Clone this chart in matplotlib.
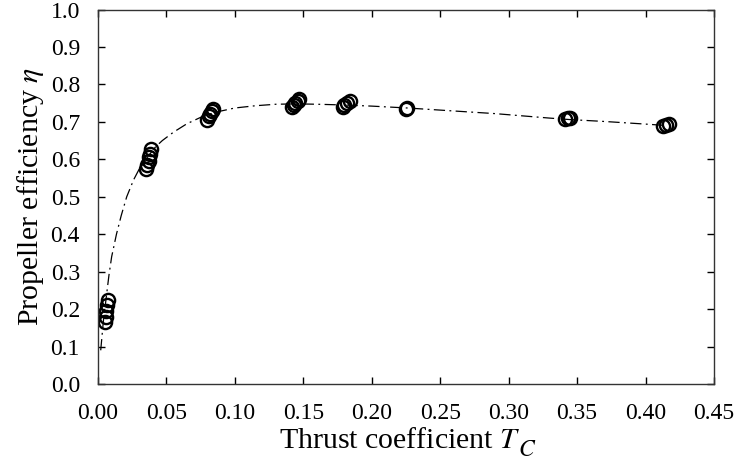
import numpy as np
import matplotlib
matplotlib.use('Agg')
import matplotlib.pyplot as plt

plt.rcParams['font.family'] = ['Liberation Serif', 'DejaVu Serif']
plt.rcParams['mathtext.fontset'] = 'stix'

# measured points (open circles)
tc_meas = [0.005, 0.0055, 0.006, 0.0065, 0.007,
           0.035, 0.036, 0.037, 0.0375, 0.038, 0.0385,
           0.080, 0.081, 0.082, 0.083, 0.084,
           0.142, 0.143, 0.144, 0.146, 0.147,
           0.179, 0.180, 0.182, 0.184,
           0.225, 0.226,
           0.341, 0.343, 0.345,
           0.413, 0.415, 0.417]
eta_meas = [0.165, 0.18, 0.195, 0.21, 0.225,
            0.575, 0.585, 0.595, 0.605, 0.615, 0.628,
            0.705, 0.715, 0.722, 0.728, 0.733,
            0.740, 0.745, 0.750, 0.755, 0.760,
            0.740, 0.745, 0.750, 0.757,
            0.735, 0.738,
            0.707, 0.710, 0.711,
            0.690, 0.692, 0.693]

# fitted curve (dash-dot)
tc_fit = [0.002, 0.004, 0.006, 0.008, 0.010, 0.0135, 0.017, 0.021, 0.026,
          0.031, 0.037, 0.042, 0.047, 0.055, 0.065, 0.075, 0.085, 0.100,
          0.115, 0.130, 0.145, 0.160, 0.180, 0.200, 0.226, 0.260, 0.290,
          0.330, 0.345, 0.370, 0.400, 0.416]
eta_fit = [0.09, 0.17, 0.23, 0.29, 0.34, 0.40, 0.45, 0.50, 0.545,
           0.58, 0.61, 0.633, 0.650, 0.672, 0.695, 0.712, 0.725, 0.737,
           0.743, 0.747, 0.748, 0.747, 0.745, 0.742, 0.737, 0.729, 0.722,
           0.710, 0.706, 0.701, 0.694, 0.690]

fig = plt.figure(figsize=(7.35, 4.75), dpi=100)
ax = fig.add_axes([0.1333, 0.1916, 0.9714 - 0.1333, 0.98 - 0.1916])

ax.plot(tc_fit, eta_fit, color='black', linestyle='-.', linewidth=0.9,
        dashes=(9, 3.5, 1.5, 3.5))
ax.plot(tc_meas, eta_meas, linestyle='none', marker='o', markersize=9.5,
        markerfacecolor='none', markeredgecolor='black', markeredgewidth=1.7)

ax.set_xlim(0, 0.45)
ax.set_ylim(0, 1.0)
ax.set_xticks(np.arange(0, 0.451, 0.05))
ax.set_yticks(np.arange(0, 1.01, 0.1))
ax.set_xticklabels(['%.2f' % v for v in np.arange(0, 0.451, 0.05)])
ax.set_yticklabels(['%.1f' % v for v in np.arange(0, 1.01, 0.1)])
ax.tick_params(direction='in', top=True, right=True, length=5, width=1,
               labelsize=17)
ax.tick_params(axis='x', pad=14)
ax.tick_params(axis='y', pad=13)
for s in ax.spines.values():
    s.set_linewidth(1.0)
    s.set_color('#333333')

# subscript C sits well below T, so it is drawn as its own text
ax.set_xlabel(r'Thrust coefficient $T$', fontsize=21.5)
ax.xaxis.set_label_coords(0.49, -0.118)
ax.annotate(r'$C$', xy=(1.0, 0.0), xycoords=ax.xaxis.label,
            xytext=(-2, 3), textcoords='offset points',
            ha='left', va='center', fontsize=17)
ax.set_ylabel(r'Propeller efficiency $\eta$', fontsize=21.5, labelpad=3)

fig.savefig('out.png', dpi=100)
